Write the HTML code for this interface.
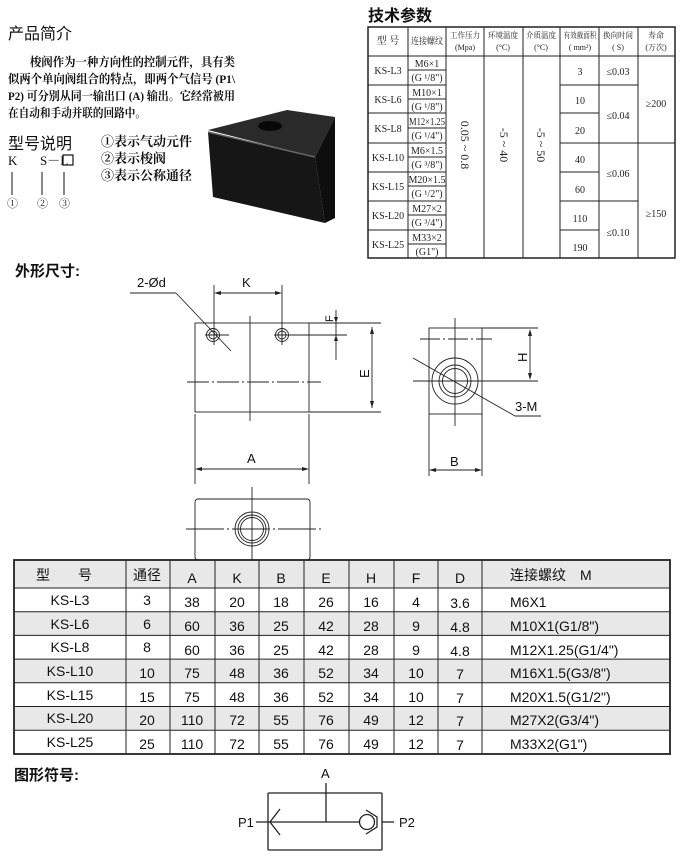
<!DOCTYPE html>
<html><head><meta charset="utf-8"><style>
html,body{margin:0;padding:0;background:#fff;}
svg{display:block;}
.cjk{font-family:"Liberation Serif","Noto Serif CJK SC","Noto Sans CJK SC",serif;}
.sans{font-family:"Liberation Sans","Noto Sans CJK SC",sans-serif;}
</style></head><body>
<svg width="680" height="865" viewBox="0 0 680 865" xmlns="http://www.w3.org/2000/svg">
<!-- Intro -->
<text x="8" y="39" class="sans" font-size="16" fill="#111">产品简介</text>
<g class="cjk" font-size="12" font-weight="bold" fill="#111">
<text x="30" y="66" textLength="205" lengthAdjust="spacingAndGlyphs">梭阀作为一种方向性的控制元件，具有类</text>
<text x="8" y="83" textLength="227" lengthAdjust="spacingAndGlyphs">似两个单向阀组合的特点，即两个气信号 (P1\</text>
<text x="8" y="100" textLength="227" lengthAdjust="spacingAndGlyphs">P2) 可分别从同一输出口 (A) 输出。它经常被用</text>
<text x="8" y="117" textLength="138" lengthAdjust="spacingAndGlyphs">在自动和手动并联的回路中。</text>
</g>
<text x="8" y="149" class="sans" font-size="16" fill="#111">型号说明</text>
<g class="cjk" font-size="13" fill="#111">
<text x="8" y="165">K</text><text x="40" y="165">S－L</text>
</g>
<rect x="63" y="155" width="10" height="10" fill="none" stroke="#111" stroke-width="1.2"/>
<g stroke="#111" stroke-width="1"><line x1="12" y1="172" x2="12" y2="195"/><line x1="42" y1="172" x2="42" y2="195"/><line x1="64" y1="172" x2="64" y2="195"/></g>
<g class="cjk" font-size="11" fill="#111"><text x="7" y="207">①</text><text x="37" y="207">②</text><text x="59" y="207">③</text></g>
<g class="cjk" font-size="13" font-weight="bold" fill="#111">
<text x="101" y="146" textLength="91" lengthAdjust="spacingAndGlyphs">①表示气动元件</text><text x="101" y="163">②表示梭阀</text><text x="101" y="180" textLength="91" lengthAdjust="spacingAndGlyphs">③表示公称通径</text>
</g>
<!-- photo -->
<polygon points="208,130 287,110 335,117 315,157" fill="#2a2a2a"/>
<polygon points="208,132 315,157 325,223 213,197" fill="#161616"/>
<polygon points="315,157 335,117 335,218 325,223" fill="#0e0e0e"/>
<ellipse cx="270" cy="126" rx="12" ry="5" fill="#080808"/>
<line x1="208" y1="132" x2="315" y2="157" stroke="#666" stroke-width="1.5"/>

<!-- Tech params -->
<text x="368" y="21" class="sans" font-size="16" font-weight="bold" fill="#111">技术参数</text>
<g stroke="#222" stroke-width="1" fill="none">
<rect x="368" y="27" width="307" height="231" stroke-width="1.5"/>
<line x1="368" y1="56" x2="675" y2="56"/>
<line x1="408" y1="27" x2="408" y2="258"/><line x1="446" y1="27" x2="446" y2="258"/>
<line x1="484" y1="27" x2="484" y2="258"/><line x1="523" y1="27" x2="523" y2="258"/>
<line x1="560" y1="27" x2="560" y2="258"/><line x1="599" y1="27" x2="599" y2="258"/>
<line x1="638" y1="27" x2="638" y2="258"/>
<path d="M368 85H446M368 113H446M368 143H446M368 172H446M368 201H446M368 230H446"/>
<path d="M408 70H446M408 99H446M408 128H446M408 157H446M408 186H446M408 215H446M408 244H446"/>
<path d="M560 85H599M560 113H599M560 143H599M560 172H599M560 201H599M560 230H599"/>
<path d="M599 85H638M599 143H638M599 201H638"/>
<path d="M638 143H675"/>
</g>
<g class="cjk" font-size="8" fill="#222" text-anchor="middle">
<text x="388" y="44" font-size="10">型 号</text><text x="427" y="44" font-size="9" textLength="32" lengthAdjust="spacingAndGlyphs">连接螺纹</text>
<text x="465" y="38" textLength="30" lengthAdjust="spacingAndGlyphs">工作压力</text><text x="465" y="50">(Mpa)</text>
<text x="503" y="38" textLength="30" lengthAdjust="spacingAndGlyphs">环境温度</text><text x="503" y="50">(°C)</text>
<text x="541" y="38" textLength="30" lengthAdjust="spacingAndGlyphs">介质温度</text><text x="541" y="50">(°C)</text>
<text x="580" y="38" textLength="33" lengthAdjust="spacingAndGlyphs">有效截面积</text><text x="580" y="50">( mm²)</text>
<text x="618" y="38" textLength="30" lengthAdjust="spacingAndGlyphs">换向时间</text><text x="618" y="50">( S)</text>
<text x="656" y="38">寿命</text><text x="656" y="50">(万次)</text>
</g>
<g class="cjk" font-size="10" fill="#222" text-anchor="middle">
<text x="388" y="74">KS-L3</text><text x="388" y="103">KS-L6</text><text x="388" y="132">KS-L8</text>
<text x="388" y="161">KS-L10</text><text x="388" y="190">KS-L15</text><text x="388" y="219">KS-L20</text><text x="388" y="248">KS-L25</text>
<text x="427" y="67">M6×1</text><text x="427" y="81">(G ¹/8")</text>
<text x="427" y="96">M10×1</text><text x="427" y="110">(G ¹/8")</text>
<text x="427" y="125" textLength="36" lengthAdjust="spacingAndGlyphs">M12×1.25</text><text x="427" y="139">(G ¹/4")</text>
<text x="427" y="154">M6×1.5</text><text x="427" y="168">(G ³/8")</text>
<text x="427" y="183">M20×1.5</text><text x="427" y="197">(G ¹/2")</text>
<text x="427" y="212">M27×2</text><text x="427" y="226">(G ³/4")</text>
<text x="427" y="241">M33×2</text><text x="427" y="255">(G1")</text>
<text x="580" y="75">3</text><text x="580" y="104">10</text><text x="580" y="134">20</text>
<text x="580" y="163">40</text><text x="580" y="193">60</text><text x="580" y="222">110</text><text x="580" y="251">190</text>
<text x="618" y="75">≤0.03</text><text x="618" y="119">≤0.04</text><text x="618" y="177">≤0.06</text><text x="618" y="236">≤0.10</text>
<text x="656" y="107">≥200</text><text x="656" y="217">≥150</text>
</g>
<g class="cjk" font-size="12" fill="#222" text-anchor="middle">
<text transform="translate(461,145) rotate(90)">0.05 ~ 0.8</text>
<text transform="translate(500,145) rotate(90)">-5 ~ 40</text>
<text transform="translate(537,145) rotate(90)">-5 ~ 50</text>
</g>

<!-- Dimensions drawing -->
<text x="15" y="276" class="sans" font-size="15" font-weight="bold" fill="#111">外形尺寸:</text>
<g stroke="#222" stroke-width="0.9" fill="none">
<rect x="195" y="323" width="114" height="89"/>
<line x1="309" y1="323" x2="381" y2="323"/><line x1="309" y1="412" x2="381" y2="412"/>
<line x1="250" y1="316" x2="250" y2="421"/>
<line x1="187" y1="382" x2="321" y2="382" stroke-dasharray="22,3,2,3"/>
<circle cx="213" cy="335" r="6.5"/><circle cx="213" cy="335" r="4"/>
<circle cx="282" cy="335" r="6.5"/><circle cx="282" cy="335" r="4"/>
<line x1="205" y1="335" x2="229" y2="335"/><line x1="274" y1="335" x2="347" y2="335"/>
<line x1="282" y1="327" x2="282" y2="343"/>
<line x1="214" y1="285" x2="214" y2="345"/><line x1="282" y1="285" x2="282" y2="345"/>
<line x1="218" y1="293" x2="278" y2="293"/>
<line x1="130" y1="293" x2="176" y2="293"/><line x1="176" y1="293" x2="231" y2="351"/>
<line x1="336" y1="310" x2="336" y2="360"/>
<line x1="372" y1="327" x2="372" y2="408"/>
<line x1="195" y1="414" x2="195" y2="484"/><line x1="309" y1="414" x2="309" y2="484"/>
<line x1="199" y1="469" x2="305" y2="469"/>
<!-- right view -->
<rect x="429" y="328" width="53" height="86"/>
<line x1="482" y1="328" x2="538" y2="328"/><line x1="482" y1="381" x2="538" y2="381"/>
<line x1="455" y1="318" x2="455" y2="426"/>
<line x1="420" y1="339" x2="492" y2="339" stroke-dasharray="20,3,2,3"/>
<line x1="413" y1="381" x2="482" y2="381"/>
<circle cx="455" cy="381" r="23"/><circle cx="455" cy="381" r="16"/><circle cx="455" cy="381" r="12.5"/>
<line x1="413" y1="358" x2="515" y2="416"/><line x1="515" y1="416" x2="541" y2="416"/>
<line x1="530" y1="332" x2="530" y2="377"/>
<line x1="429" y1="414" x2="429" y2="476"/><line x1="482" y1="414" x2="482" y2="476"/>
<line x1="433" y1="470" x2="478" y2="470"/>
<!-- bottom view -->
<rect x="195" y="499" width="115" height="61" rx="3"/>
<circle cx="252" cy="529" r="17"/><circle cx="252" cy="529" r="14"/><circle cx="252" cy="529" r="11.5"/>
<line x1="252" y1="487" x2="252" y2="570"/>
<line x1="186" y1="529" x2="322" y2="529" stroke-dasharray="38,3,2,3"/>
</g>
<g fill="#222">
<polygon points="214,293 221,291 221,295"/><polygon points="282,293 275,291 275,295"/>
<polygon points="372,327 370,334 374,334"/><polygon points="372,408 370,401 374,401"/>
<polygon points="195,469 202,467 202,471"/><polygon points="309,469 302,467 302,471"/>
<polygon points="429,470 436,468 436,472"/><polygon points="482,470 475,468 475,472"/>
<polygon points="530,329 528,336 532,336"/><polygon points="530,380 528,373 532,373"/>
<polygon points="336,323 334,317 338,317"/><polygon points="336,335 334,341 338,341"/>
</g>
<g class="sans" font-size="13" fill="#111">
<text x="137" y="287">2-Ød</text><text x="242" y="287">K</text>
<text x="247" y="463">A</text><text x="450" y="466">B</text><text x="515" y="411">3-M</text>
<text transform="translate(333,322) rotate(-90)" font-size="11">F</text>
<text transform="translate(369,378) rotate(-90)">E</text>
<text transform="translate(527,362) rotate(-90)">H</text>
</g>

<!-- Bottom table -->
<g fill="#e8e8e8">
<rect x="14" y="560" width="656" height="28"/>
<rect x="14" y="611.7" width="656" height="23.7"/>
<rect x="14" y="659.1" width="656" height="23.7"/>
<rect x="14" y="706.5" width="656" height="23.7"/>
</g>
<g stroke="#222" stroke-width="1" fill="none">
<rect x="14" y="560" width="656" height="194" stroke-width="1.8"/>
<path d="M14 588H670M14 611.7H670M14 635.4H670M14 659.1H670M14 682.8H670M14 706.5H670M14 730.2H670"/>
<path d="M126 560V754M170 560V754M215 560V754M259 560V754M304 560V754M349 560V754M394 560V754M438 560V754M482 560V754"/>
</g>
<g class="sans" font-size="14" fill="#111" text-anchor="middle">
<text x="64" y="580" font-size="14">型　　号</text><text x="147" y="580">通径</text>
<text x="192" y="583">A</text><text x="237" y="583">K</text><text x="281" y="583">B</text><text x="326" y="583">E</text>
<text x="371" y="583">H</text><text x="416" y="583">F</text><text x="460" y="583">D</text>
</g>
<text x="510" y="580" class="sans" font-size="14" fill="#111">连接螺纹　M</text>
<g class="sans" font-size="14" fill="#111" text-anchor="middle">
<text x="70" y="605">KS-L3</text><text x="147" y="605">3</text><text x="192" y="607">38</text><text x="237" y="607">20</text><text x="281" y="607">18</text><text x="326" y="607">26</text><text x="371" y="607">16</text><text x="416" y="607">4</text><text x="460" y="608">3.6</text>
<text x="70" y="629">KS-L6</text><text x="147" y="629">6</text><text x="192" y="631">60</text><text x="237" y="631">36</text><text x="281" y="631">25</text><text x="326" y="631">42</text><text x="371" y="631">28</text><text x="416" y="631">9</text><text x="460" y="632">4.8</text>
<text x="70" y="652">KS-L8</text><text x="147" y="652">8</text><text x="192" y="655">60</text><text x="237" y="655">36</text><text x="281" y="655">25</text><text x="326" y="655">42</text><text x="371" y="655">28</text><text x="416" y="655">9</text><text x="460" y="656">4.8</text>
<text x="70" y="676">KS-L10</text><text x="147" y="678">10</text><text x="192" y="678">75</text><text x="237" y="678">48</text><text x="281" y="678">36</text><text x="326" y="678">52</text><text x="371" y="678">34</text><text x="416" y="678">10</text><text x="460" y="679">7</text>
<text x="70" y="700">KS-L15</text><text x="147" y="702">15</text><text x="192" y="702">75</text><text x="237" y="702">48</text><text x="281" y="702">36</text><text x="326" y="702">52</text><text x="371" y="702">34</text><text x="416" y="702">10</text><text x="460" y="703">7</text>
<text x="70" y="723">KS-L20</text><text x="147" y="725">20</text><text x="192" y="725">110</text><text x="237" y="725">72</text><text x="281" y="725">55</text><text x="326" y="725">76</text><text x="371" y="725">49</text><text x="416" y="725">12</text><text x="460" y="726">7</text>
<text x="70" y="747">KS-L25</text><text x="147" y="749">25</text><text x="192" y="749">110</text><text x="237" y="749">72</text><text x="281" y="749">55</text><text x="326" y="749">76</text><text x="371" y="749">49</text><text x="416" y="749">12</text><text x="460" y="750">7</text>
</g>
<g class="sans" font-size="14" fill="#111">
<text x="510" y="607">M6X1</text><text x="510" y="631">M10X1(G1/8")</text><text x="510" y="655">M12X1.25(G1/4")</text>
<text x="510" y="678">M16X1.5(G3/8")</text><text x="510" y="702">M20X1.5(G1/2")</text><text x="510" y="725">M27X2(G3/4")</text><text x="510" y="749">M33X2(G1")</text>
</g>

<!-- Symbol -->
<text x="14" y="780" class="sans" font-size="15" font-weight="bold" fill="#111">图形符号:</text>
<g stroke="#222" stroke-width="1.3" fill="none">
<rect x="268" y="793" width="114" height="57" rx="1"/>
<line x1="256" y1="822" x2="360" y2="822"/>
<line x1="326" y1="783" x2="326" y2="822"/>
<polyline points="280,809 270,822 280,835"/>
<circle cx="367" cy="822" r="7.5"/>
<polyline points="366,810 377,817 377,827 366,834"/>
<line x1="382" y1="822" x2="394" y2="822"/>
</g>
<g class="sans" font-size="13" fill="#111">
<text x="321" y="778">A</text><text x="238" y="827">P1</text><text x="399" y="827">P2</text>
</g>
</svg>
</body></html>
